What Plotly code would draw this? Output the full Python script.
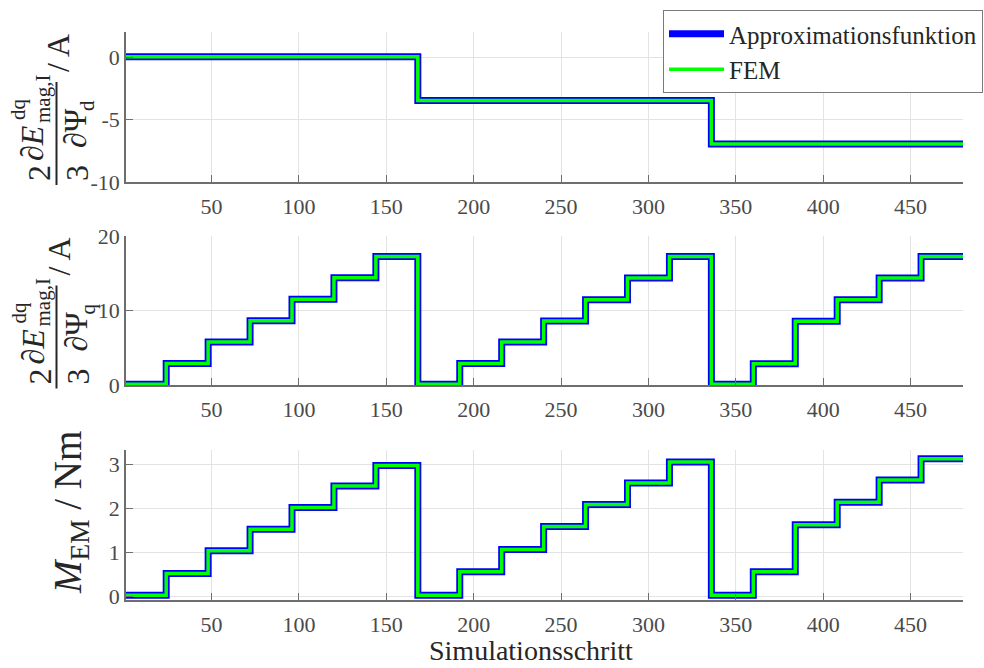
import numpy as np
import plotly.graph_objects as go

# ---- data: one level per block of 24 simulation steps (20 blocks, steps 1..480) ----
steps_per_block = 24
n_steps = 480

dPsi_d_approx = [0.03] * 7 + [-3.47] * 7 + [-6.95] * 6
dPsi_d_fem = [0.03] * 7 + [-3.47] * 7 + [-6.95] * 6

dPsi_q_approx = [0.1, 2.88, 5.76, 8.62, 11.5, 14.38, 17.25,
                 0.1, 2.88, 5.76, 8.6, 11.45, 14.35, 17.25,
                 0.1, 2.86, 8.55, 11.45, 14.35, 17.25]
dPsi_q_fem = list(dPsi_q_approx)

torque_approx = [0.02, 0.51, 1.03, 1.52, 2.01, 2.5, 2.97,
                 0.02, 0.55, 1.06, 1.58, 2.08, 2.57, 3.05,
                 0.02, 0.55, 1.62, 2.13, 2.64, 3.12]
torque_fem = list(torque_approx)

x_ticks = [50, 100, 150, 200, 250, 300, 350, 400, 450]
y_ticks_d = [-10, -5, 0]
y_ticks_q = [0, 10, 20]
y_ticks_m = [0, 1, 2, 3]

# block start positions, plus the final step to close the last block
block_x = [1] + [steps_per_block * k for k in range(1, len(torque_fem))] + [n_steps]


def staircase(levels):
    return levels + [levels[-1]]


# ---- styling ----
FONT = "Liberation Serif, Times New Roman, serif"
BLUE = "#0000ff"
GREEN = "#00ff00"
AX = "#6e6e6e"
TXT = "#262626"
TICKTXT = "#4a4a4a"
GRID = "#e3e3e3"

W_PX, H_PX = 984, 668
L, R, T, B = 126, 21, 32, 68
PW = W_PX - L - R
PH = H_PX - T - B


def px(x):
    return (x - L) / PW


def py(y):
    return (H_PX - B - y) / PH


fig = go.Figure()

panels = [
    (dPsi_d_approx, dPsi_d_fem, "x", "y"),
    (dPsi_q_approx, dPsi_q_fem, "x2", "y2"),
    (torque_approx, torque_fem, "x3", "y3"),
]
for i, (appr, fem, xa, ya) in enumerate(panels):
    fig.add_trace(go.Scatter(
        x=block_x, y=staircase(appr), mode="lines", line_shape="hv",
        line=dict(color=BLUE, width=7), name="Approximationsfunktion",
        legendgroup="a", showlegend=(i == 0), xaxis=xa, yaxis=ya))
    fig.add_trace(go.Scatter(
        x=block_x, y=staircase(fem), mode="lines", line_shape="hv",
        line=dict(color=GREEN, width=3.5), name="FEM",
        legendgroup="f", showlegend=(i == 0), xaxis=xa, yaxis=ya))

axis_common = dict(
    showgrid=True, gridcolor=GRID, gridwidth=1, zeroline=False,
    showline=True, linecolor=AX, linewidth=1.5,
    ticks="inside", ticklen=7, tickwidth=1.2, tickcolor=AX,
    tickfont=dict(family=FONT, size=22, color=TICKTXT),
)

x_common = dict(axis_common, range=[1, n_steps], tickvals=x_ticks,
                ticktext=[str(v) for v in x_ticks], ticklabelstandoff=4)

domains = [
    [py(182), py(32)],
    [py(385), py(236)],
    [py(600), py(450)],
]

fig.update_layout(
    xaxis=dict(x_common, anchor="y", domain=[0, 1]),
    xaxis2=dict(x_common, anchor="y2", domain=[0, 1]),
    xaxis3=dict(x_common, anchor="y3", domain=[0, 1]),
    yaxis=dict(axis_common, anchor="x", domain=domains[0], range=[-10, 2],
               tickvals=y_ticks_d, ticktext=[str(v) for v in y_ticks_d]),
    yaxis2=dict(axis_common, anchor="x2", domain=domains[1], range=[0, 20],
                tickvals=y_ticks_q, ticktext=[str(v) for v in y_ticks_q]),
    yaxis3=dict(axis_common, anchor="x3", domain=domains[2], range=[-0.09, 3.32],
                tickvals=y_ticks_m, ticktext=[str(v) for v in y_ticks_m]),
)

# ---- y-axis titles built from rotated pieces (fraction 2/3 * dE/dPsi / A) ----
annotations = []
shapes = []


def rot(text, x, y, size):
    annotations.append(dict(
        text=text, x=px(x), y=py(y), xref="paper", yref="paper",
        xanchor="center", yanchor="middle", showarrow=False, textangle=-90,
        font=dict(family=FONT, size=size, color=TXT)))


for dy, idx in [(0, "d"), (203.5, "q")]:
    rot("2", 39, 173 + dy, 32)
    rot("3", 77, 173 + dy, 32)
    rot("\u2202<i>E</i>", 32, 143 + dy, 32)
    rot("dq", 18, 109 + dy, 21)
    rot("mag,I", 43, 99 + dy, 21)
    rot("\u2202\u03a8", 75, 128 + dy, 32)
    rot(idx, 87, 106 + dy, 21)
    rot("/ A", 58, 53 + dy, 32)
    shapes.append(dict(type="line", xref="paper", yref="paper",
                       x0=px(56.5), x1=px(56.5), y0=py(82 + dy), y1=py(185 + dy),
                       line=dict(color=TXT, width=2)))

rot("<i>M</i><sub>EM</sub> / Nm", 70, 513, 39)

annotations.append(dict(
    text="Simulationsschritt", x=px(531), y=py(650), xref="paper", yref="paper",
    xanchor="center", yanchor="middle", showarrow=False,
    font=dict(family=FONT, size=28, color=TXT)))

fig.update_layout(
    annotations=annotations,
    shapes=shapes,
    width=W_PX, height=H_PX,
    margin=dict(l=L, r=R, t=T, b=B, autoexpand=False),
    paper_bgcolor="white", plot_bgcolor="white",
    font=dict(family=FONT, color=TXT),
    legend=dict(
        x=px(663), y=py(10), xanchor="left", yanchor="top",
        bgcolor="white", bordercolor="#7a7a7a", borderwidth=1,
        font=dict(family=FONT, size=25, color=TXT),
        tracegroupgap=0, itemwidth=55,
    ),
)

fig.write_html("out.html")
